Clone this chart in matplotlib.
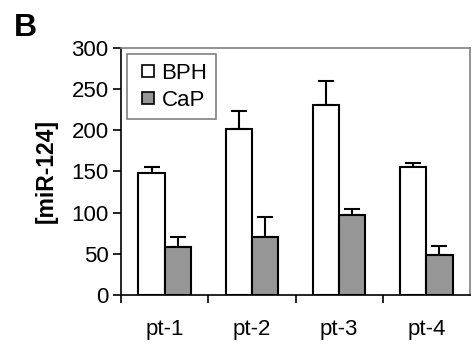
import numpy as np
import matplotlib.pyplot as plt
from matplotlib.lines import Line2D

# values
patients = ["pt-1", "pt-2", "pt-3", "pt-4"]
bph = [148, 201, 231, 156]
bph_err = [7, 22, 29, 4]
cap = [58, 71, 97, 49]
cap_err = [12, 24, 7, 10]

plt.rcParams['font.family'] = ['Liberation Sans', 'DejaVu Sans']

fig = plt.figure(figsize=(4.72, 3.47), dpi=100)
ax = fig.add_axes([0.2564, 0.1499, 0.7394, 0.7118])

x = np.arange(len(patients)) + 0.5
w = 0.3
ax.bar(x - w / 2, bph, w, color="white", edgecolor="black", linewidth=1.5, zorder=2)
ax.bar(x + w / 2, cap, w, color="#969696", edgecolor="black", linewidth=1.5, zorder=2)
# upper error bars only
ax.errorbar(x - w / 2, bph, yerr=[np.zeros(4), bph_err], fmt="none",
            ecolor="black", elinewidth=1.5, capsize=6, capthick=1.5, zorder=1)
ax.errorbar(x + w / 2, cap, yerr=[np.zeros(4), cap_err], fmt="none",
            ecolor="black", elinewidth=1.5, capsize=6, capthick=1.5, zorder=1)

ax.set_xlim(0, 4)
ax.set_ylim(0, 300)
ax.set_yticks([0, 50, 100, 150, 200, 250, 300])
ax.set_xticks([0, 1, 2, 3])
ax.set_xticklabels([])
ax.set_xticks(x, minor=True)
ax.set_xticklabels(patients, minor=True)
ax.tick_params(axis="x", which="minor", length=0, pad=17, labelsize=16)
ax.tick_params(axis="x", which="major", length=6, width=1.2, direction="out")
ax.tick_params(axis="y", length=6, width=1.2, direction="out", labelsize=16, pad=3)

for s in ["top", "right"]:
    ax.spines[s].set_color("#808080")
    ax.spines[s].set_linewidth(1.2)
for s in ["left", "bottom"]:
    ax.spines[s].set_color("black")
    ax.spines[s].set_linewidth(1.2)

ax.set_ylabel("[miR-124]", fontsize=16.5, fontweight="bold", labelpad=10)

handles = [
    Line2D([], [], linestyle="none", marker="s", markersize=8, markerfacecolor="white",
           markeredgecolor="black", markeredgewidth=1.2),
    Line2D([], [], linestyle="none", marker="s", markersize=8, markerfacecolor="#969696",
           markeredgecolor="black", markeredgewidth=1.2),
]
leg = ax.legend(handles, ["BPH", "CaP"], loc="upper left", bbox_to_anchor=(0.017, 0.975),
                borderaxespad=0, fontsize=16, handlelength=1.05, handletextpad=0.1,
                fancybox=False, framealpha=1, edgecolor="#808080",
                labelspacing=0.25, borderpad=0.4)
leg.get_frame().set_linewidth(1.2)

fig.text(0.03, 0.895, "B", fontsize=23, fontweight="bold")

fig.savefig("out.png", dpi=100)
